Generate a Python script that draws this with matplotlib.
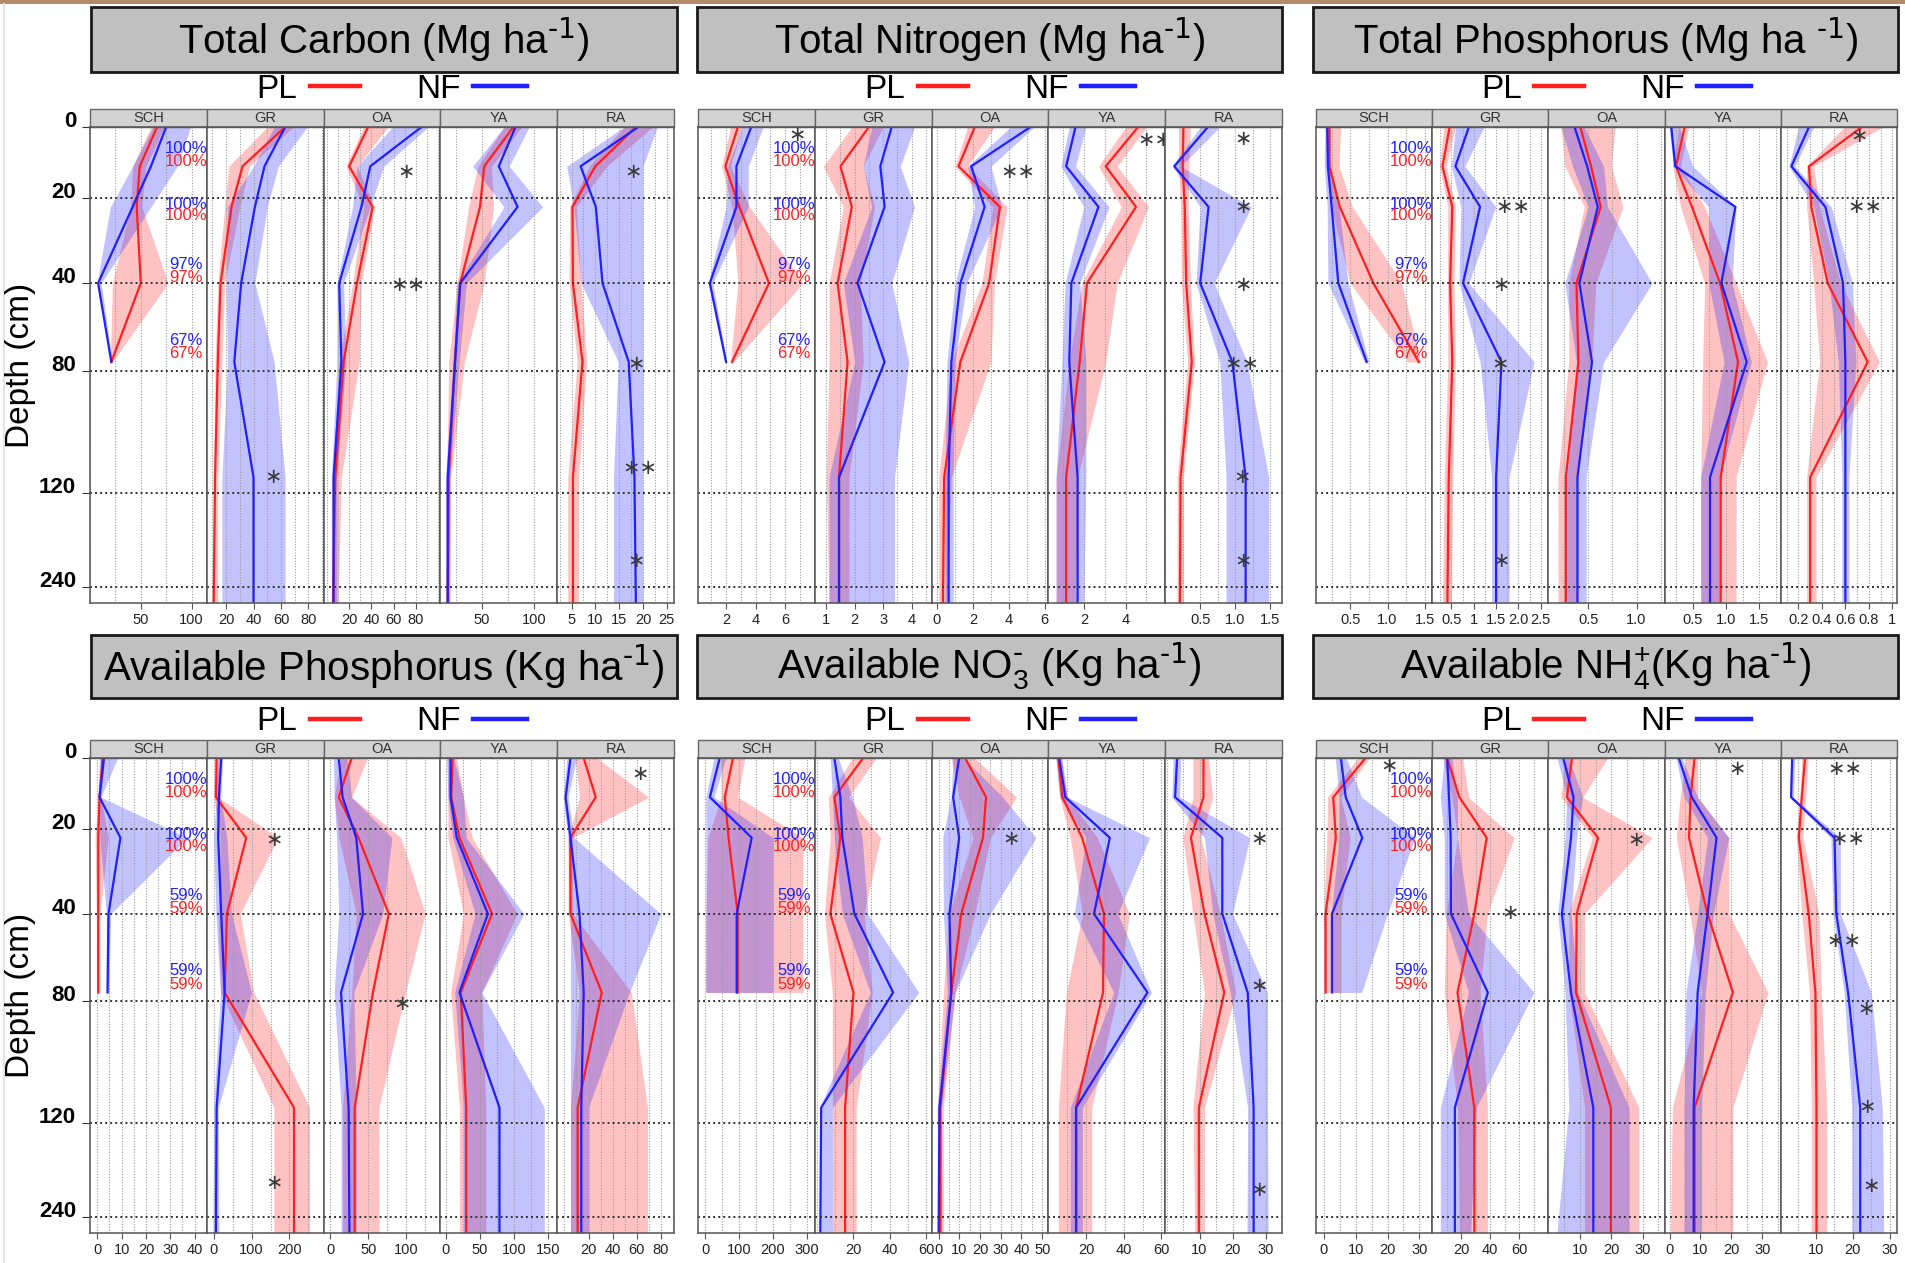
import numpy as np
import matplotlib.pyplot as plt
from matplotlib.patches import Rectangle
from matplotlib.lines import Line2D
from matplotlib.ticker import MultipleLocator

plt.rcParams['font.family'] = ['Liberation Sans', 'DejaVu Sans']
plt.rcParams['mathtext.default'] = 'regular'

## data
sites = ['SCH', 'GR', 'OA', 'YA', 'RA']
depth = [0, 11, 22, 40, 76, 115, 265]
depth_ticks = [0, 20, 40, 80, 120, 240]

# Total carbon
tc_pl = [[66, 49, 46, 50, 21], [63, 32, 24, 16, 14, 12, 11], [37, 20, 41, 27, 15, 7.5, 5.5],
         [80, 52, 48, 29, 24, 18, 17], [18.5, 10, 5.2, 5.3, 7.3, 5.3, 5.3]]
tc_pl_lo = [[60, 42, 40, 22, 20], [50, 22, 19, 14, 12, 11, 10], [33, 17, 33, 23, 11, 5, 4],
            [71, 46, 37, 26, 18, 16, 16], [16, 8.7, 4.6, 4.5, 6.2, 4.2, 4.2]]
tc_pl_hi = [[73, 55, 51, 77, 22], [69, 37, 30, 19, 17, 14, 14], [55, 27, 43, 31, 29, 13, 10],
            [88, 59, 61, 52, 33, 20, 19], [22, 12.4, 6, 7, 8.2, 6.5, 6.5]]
tc_nf = [[75, 60, 42, 8, 21], [63, 48, 41, 31, 26, 40, 40], [85, 39, 31, 11, 13, 6, 6],
         [82, 66, 84, 29, 24, 17, 17], [19, 6.9, 10.1, 11.5, 17, 18.2, 18.5]]
tc_nf_lo = [[62, 42, 20, 7, 20], [55, 40, 21, 20, 21, 17, 17], [59, 27, 23, 9, 9, 4, 4],
            [71, 41, 71, 26, 22, 15, 15], [16, 4, 5.5, 7, 14.8, 13.8, 13.8]]
tc_nf_hi = [[99, 86, 60, 11, 22], [79, 58, 50, 41, 55, 63, 63], [91, 51, 39, 15, 17, 9, 9],
            [95, 76, 108, 35, 28, 19, 19], [23, 20, 20, 20, 20, 20, 20]]
tc_xlim = [(0, 115), (6, 91), (-3, 102), (10, 122), (2, 26.5)]
tc_ticks = [[50, 100], [20, 40, 60, 80], [20, 40, 60, 80], [50, 100], [5, 10, 15, 20, 25]]
tc_ticklabels = [['50', '100'], ['20', '40', '60', '80'], ['20', '40', '60', '80'], ['50', '100'],
                 ['5', '10', '15', '20', '25']]
tc_stars = [(2, 71, 12.7, '*'), (2, 73, 41, '**'), (1, 54, 115, '*'), (4, 18, 12.7, '*'),
            (4, 18.5, 77, '*'), (4, 19.4, 112, '**'), (4, 18.5, 207, '*')]

# Total nitrogen
tn_pl = [[2.8, 1.95, 2.9, 4.9, 2.4], [2.5, 1.5, 1.9, 1.4, 1.75, 1.45, 1.45], [2.1, 1.2, 3.5, 2.9, 1.3, 0.4, 0.33],
         [4.6, 3.05, 4.5, 2.15, 1.8, 1.15, 1.15], [0.26, 0.25, 0.28, 0.3, 0.38, 0.22, 0.21]]
tn_pl_lo = [[2.3, 1.7, 2.4, 2.8, 2.3], [1.9, 0.9, 1.6, 1.1, 1.1, 1.0, 1.1], [1.7, 1.0, 3.1, 2.5, 0.8, 0.1, 0.1],
            [4.0, 2.7, 3.8, 1.9, 1.3, 0.67, 0.67], [0.19, 0.19, 0.22, 0.23, 0.32, 0.17, 0.17]]
tn_pl_hi = [[3.1, 2.3, 3.6, 7.2, 2.5], [3.0, 2.3, 2.7, 2.2, 2.3, 1.8, 1.8], [3.2, 1.7, 3.9, 3.2, 3.0, 0.8, 0.55],
            [5.0, 3.6, 5.1, 3.6, 3.05, 1.7, 1.6], [0.36, 0.34, 0.33, 0.36, 0.42, 0.26, 0.26]]
tn_nf = [[3.7, 2.7, 2.7, 0.9, 2.0], [3.3, 2.9, 3.05, 2.1, 3.05, 1.45, 1.45], [5.2, 1.9, 2.65, 1.3, 0.8, 0.65, 0.65],
         [1.6, 1.15, 2.7, 1.4, 1.3, 1.7, 1.7], [0.61, 0.13, 0.62, 0.5, 0.96, 1.15, 1.15]]
tn_nf_lo = [[3.1, 2.1, 2.0, 0.8, 1.95], [2.6, 2.3, 2.6, 1.6, 2.0, 1.1, 1.1], [4.1, 1.7, 2.1, 1.0, 0.55, 0.45, 0.45],
            [1.3, 0.9, 2.0, 1.1, 0.95, 0.67, 0.67], [0.5, 0.1, 0.5, 0.44, 0.78, 0.87, 0.87]]
tn_nf_hi = [[4.5, 3.5, 3.5, 1.1, 2.05], [4.1, 3.6, 4.1, 3.3, 3.9, 3.4, 3.4], [5.4, 3.0, 3.6, 1.65, 1.0, 0.9, 0.9],
            [2.1, 1.6, 3.2, 1.8, 2.1, 2.1, 2.0], [0.78, 0.22, 1.23, 0.7, 1.17, 1.48, 1.48]]
tn_xlim = [(0.1, 8), (0.6, 4.7), (-0.3, 6.2), (0.3, 5.9), (0, 1.67)]
tn_ticks = [[2, 4, 6], [1, 2, 3, 4], [0, 2, 4, 6], [2, 4], [0.5, 1.0, 1.5]]
tn_ticklabels = [['2', '4', '6'], ['1', '2', '3', '4'], ['0', '2', '4', '6'], ['2', '4'], ['0.5', '1.0', '1.5']]
tn_stars = [(0, 6.8, 2.2, '*'), (2, 4.5, 12.7, '**'), (3, 5.4, 3.6, '**'), (4, 1.12, 3.5, '*'),
            (4, 1.11, 22, '*'), (4, 1.12, 41, '*'), (4, 1.09, 77, '**'), (4, 1.1, 115, '*'), (4, 1.12, 207, '*')]

# Total phosphorus
tp_pl = [[0.22, 0.22, 0.36, 0.81, 1.42], [0.46, 0.3, 0.52, 0.47, 0.52, 0.44, 0.41],
         [0.42, 0.53, 0.63, 0.38, 0.4, 0.27, 0.27], [0.38, 0.25, 0.49, 0.91, 1.18, 0.92, 0.92],
         [0.74, 0.29, 0.31, 0.45, 0.79, 0.3, 0.3]]
tp_pl_lo = [[0.19, 0.19, 0.24, 0.5, 1.27], [0.33, 0.23, 0.42, 0.41, 0.42, 0.34, 0.3],
            [0.22, 0.26, 0.46, 0.3, 0.3, 0.19, 0.19], [0.29, 0.2, 0.32, 0.68, 0.65, 0.62, 0.62],
            [0.59, 0.27, 0.27, 0.33, 0.38, 0.27, 0.27]]
tp_pl_hi = [[0.37, 0.35, 0.53, 1.19, 1.45], [0.59, 0.38, 0.59, 0.56, 0.59, 0.53, 0.5],
            [0.78, 0.74, 0.86, 0.58, 0.54, 0.38, 0.38], [0.44, 0.32, 0.68, 1.15, 1.62, 1.15, 1.15],
            [0.92, 0.33, 0.38, 0.56, 0.89, 0.35, 0.35]]
tp_nf = [[0.19, 0.2, 0.25, 0.34, 0.72], [0.89, 0.59, 1.14, 0.76, 1.62, 1.5, 1.5],
         [0.36, 0.49, 0.6, 0.41, 0.54, 0.39, 0.39], [0.18, 0.24, 1.14, 0.93, 1.31, 0.76, 0.76],
         [0.29, 0.14, 0.43, 0.58, 0.6, 0.6, 0.6]]
tp_nf_lo = [[0.16, 0.15, 0.19, 0.2, 0.69], [0.59, 0.5, 0.71, 0.67, 1.14, 1.4, 1.4],
            [0.22, 0.34, 0.5, 0.26, 0.38, 0.28, 0.28], [0.15, 0.21, 0.74, 0.74, 0.97, 0.62, 0.62],
            [0.2, 0.12, 0.33, 0.46, 0.54, 0.57, 0.57]]
tp_nf_hi = [[0.23, 0.24, 0.35, 0.47, 0.75], [1.23, 0.8, 1.49, 0.89, 2.35, 1.79, 1.79],
            [0.46, 0.66, 0.7, 1.16, 0.66, 0.48, 0.48], [0.3, 0.5, 1.15, 1.09, 1.38, 0.91, 0.91],
            [0.33, 0.17, 0.48, 0.66, 0.69, 0.63, 0.63]]
tp_xlim = [(0.04, 1.6), (0.07, 2.67), (0.09, 1.29), (0.08, 1.82), (0.05, 1.04)]
tp_ticks = [[0.5, 1.0, 1.5], [0.5, 1, 1.5, 2.0, 2.5], [0.5, 1.0], [0.5, 1.0, 1.5], [0.2, 0.4, 0.6, 0.8, 1]]
tp_ticklabels = [['0.5', '1.0', '1.5'], ['0.5', '1', '1.5', '2.0', '2.5'], ['0.5', '1.0'],
                 ['0.5', '1.0', '1.5'], ['0.2', '0.4', '0.6', '0.8', '1']]
tp_stars = [(1, 1.87, 22, '**'), (1, 1.62, 41, '*'), (1, 1.6, 77, '*'), (1, 1.62, 207, '*'),
            (4, 0.72, 2.5, '*'), (4, 0.77, 22, '**')]

# Available phosphorus
ap_pl = [[2.2, 0.9, 0.4, 0.4, 0.4], [8, 6, 86, 35, 29, 212, 212], [28, 11, 37, 77, 56, 32, 32],
         [10, 8, 20, 68, 22, 30, 30], [16, 26, 5, 5, 31, 11, 11]]
ap_pl_lo = [[1.5, 0.4, -0.9, -0.4, -0.4], [2, 0, 18, 12, 18, 159, 159], [14, 5, 11, 34, 28, 16, 16],
            [3, 3, 3, 26, 7, 20, 20], [9, 12.5, 3, 3, 12.5, 5, 5]]
ap_pl_hi = [[3, 1.5, 4.5, 1.1, 1.1], [14, 12, 170, 70, 106, 253, 253], [49, 28, 93, 125, 99, 64, 64],
            [16, 26, 39, 105, 53, 59, 59], [27, 70, 7, 7, 55.6, 69, 69]]
ap_nf = [[2.75, 0.9, 9.5, 4.6, 4.2], [20, 14, 12, 20, 29, 8, 6], [11, 16, 34, 43, 14, 24, 25],
         [7, 7, 16, 62, 20, 79, 79], [5, 1, 5, 12.5, 16, 14, 14]]
ap_nf_lo = [[0.9, 0.4, 1, 3.7, 3.7], [12, 7, 0, 6, 18, 0, -2], [4, 5, 8, 11, 5, 14, 14],
            [1, 3, 10, 43, 13, 26, 26], [2, -1, 3, 5, 5, 5, 5]]
ap_nf_hi = [[8.3, 1.5, 37, 5.5, 4.8], [24, 19, 35, 47, 100, 12, 14], [22, 28, 81, 69, 31, 34, 34],
            [12, 26, 30, 115, 53, 145, 145], [10, 3, 8, 80, 54, 20, 20]]
ap_xlim = [(-3, 45), (-18, 290), (-9, 145), (-8, 164), (-6, 91)]
ap_ticks = [[0, 10, 20, 30, 40], [0, 100, 200], [0, 50, 100], [0, 50, 100, 150], [20, 40, 60, 80]]
ap_ticklabels = [['0', '10', '20', '30', '40'], ['0', '100', '200'], ['0', '50', '100'],
                 ['0', '50', '100', '150'], ['20', '40', '60', '80']]
ap_stars = [(1, 159, 22.5, '*'), (1, 159, 196, '*'), (2, 94, 81, '*'), (4, 63, 4.4, '*')]

# Available NO3
no3_pl = [[82, 58, 69, 96, 96], [25.5, 9.7, 13, 7.5, 20.2, 15.6, 15.6], [12.8, 22.9, 21.4, 10.9, 6.1, 0.8, 0.8],
          [5.3, 7.4, 17.9, 29.5, 29, 14.7, 14.7], [11.2, 11.2, 7.4, 11.5, 17.5, 9.8, 9.8]]
no3_pl_lo = [[47, 47, 8, 2, 2], [19.6, 6.4, 7.5, 4.3, 8.6, 8.6, 8.6], [6, 10, 16.6, 5, 2.3, -0.6, -0.6],
             [4, 6, 11.6, 18, 9.5, 5.3, 5.3], [8, 8, 5, 8, 11.5, 8, 8.6]]
no3_pl_hi = [[117, 96, 288, 288, 288], [32.7, 17.4, 35, 26, 30.5, 21.7, 21.7], [17.5, 37.6, 25, 17.5, 8, 2.3, 2.3],
             [7, 10, 26, 43, 37, 23, 23], [12.7, 14, 10.4, 16.3, 21, 11.5, 11.5]]
no3_nf = [[43, 14, 137, 93, 93], [9.7, 13, 14.1, 20.7, 41.9, 2.5, 2], [9.9, 7, 9.9, 5.2, 6.1, 0.4, 0],
          [5.7, 9, 32.6, 24.2, 52.6, 14.7, 14.7], [3.2, 2.6, 16.9, 16.9, 24.6, 26.4, 26.4]]
no3_nf_lo = [[26, 2, 2, 2, 2], [7.5, 8.6, 9.7, 14, 29.4, 1.6, 1.6], [7, 6, 2, 2.3, 4.2, -0.6, -0.6],
             [4, 6, 20, 13.7, 34.7, 11.6, 11.6], [2, 1.6, 11.5, 14, 19.3, 24.6, 24.4]]
no3_nf_hi = [[61, 26, 200, 200, 200], [11.8, 19.6, 25, 28, 56, 8.6, 8.6], [12, 31, 47, 25, 8, 1.4, 1.4],
             [7, 10, 53.7, 36.8, 54.7, 18, 18], [4.3, 4, 25.2, 20, 30.6, 30.6, 30.8]]
no3_xlim = [(-21, 323), (-1, 63), (-3.4, 53), (0, 62), (-0.4, 35)]
no3_ticks = [[0, 100, 200, 300], [20, 40, 60], [0, 10, 20, 30, 40, 50], [20, 40, 60], [10, 20, 30]]
no3_ticklabels = [['0', '100', '200', '300'], ['20', '40', '60'], ['0', '10', '20', '30', '40', '50'],
                  ['20', '40', '60'], ['10', '20', '30']]
no3_stars = [(2, 35, 22.3, '*'), (4, 28, 22.3, '*'), (4, 28, 73, '*'), (4, 28, 205, '*')]

# Available NH4
nh4_pl = [[13.1, 3, 3.8, 0.6, 0.6], [10.3, 18.7, 37.5, 29, 17.4, 29, 29], [7.5, 5.9, 15.8, 9, 8.8, 19.9, 19.9],
          [8.1, 6.8, 6.3, 12.3, 20.5, 8.1, 8.1], [7, 6.1, 5.3, 8, 9.8, 10.1, 10.1]]
nh4_pl_lo = [[10.7, 1.2, 1, 0, 0], [7, 13.5, 17.4, 9.6, 8.3, 17.4, 18.7], [5.3, 4, 14, 6.5, 6.5, 11.5, 11.5],
             [5.3, 3.4, 2.2, 6.6, 10.4, 0.9, 0.3], [6.1, 5.6, 4.6, 6.1, 8.2, 8.7, 8.7]]
nh4_pl_hi = [[14.3, 5.4, 8.3, 5.4, 5.4], [21, 25, 56.5, 38, 33, 38, 38], [18.9, 10.9, 33, 11.5, 11.5, 28.8, 28.8],
             [9.1, 9.1, 19.2, 19.2, 31.9, 20.5, 20.5], [7.8, 7.2, 6.4, 10.8, 11.4, 12.9, 12.9]]
nh4_nf = [[5.4, 6.9, 12.1, 2.6, 2.6], [10.3, 11.6, 12.7, 12.9, 38.3, 15.6, 15.6], [4.7, 8, 7.2, 4.3, 7.2, 14.3, 14.3],
          [3, 7.2, 15.2, 12.3, 9.1, 7.8, 7.8], [3.5, 3.2, 15, 15.5, 18.7, 22, 22]]
nh4_nf_lo = [[3.6, 4.8, 4.8, 2.4, 2.4], [8.3, 5.6, 8.3, 8.3, 25, 5.6, 5.6], [2.8, 5.9, 5.3, 3, 5.3, 6.5, 2.7],
             [2.1, 4.7, 12.3, 9.1, 5.3, 4.7, 4.7], [3.1, 2.8, 14, 14.6, 17.6, 19.7, 19.7]]
nh4_nf_hi = [[7.1, 11.9, 28.6, 20, 11.9], [13.5, 17.4, 17.4, 25, 70, 30.4, 26.5], [6.5, 10.9, 9, 7.2, 9.4, 25.7, 25.7],
             [4, 9.1, 19.2, 14.2, 11.6, 10.4, 10.4], [4.2, 3.8, 16.6, 16.6, 25, 28, 28.4]]
nh4_xlim = [(-2.4, 34), (0, 80), (0, 37), (-1.6, 36), (0.4, 32)]
nh4_ticks = [[0, 10, 20, 30], [20, 40, 60], [10, 20, 30], [0, 10, 20, 30], [10, 20, 30]]
nh4_ticklabels = [['0', '10', '20', '30'], ['20', '40', '60'], ['10', '20', '30'], ['0', '10', '20', '30'],
                  ['10', '20', '30']]
nh4_stars = [(0, 20.5, 2.2, '*'), (1, 53.4, 39.7, '*'), (2, 27.8, 22.5, '*'), (3, 21.8, 3, '*'),
             (4, 17.9, 3, '**'), (4, 18.7, 22.3, '**'), (4, 17.6, 52.6, '**'), (4, 23.6, 82.5, '*'),
             (4, 24, 114.7, '*'), (4, 25, 200, '*')]

titles = [r'Total Carbon (Mg ha$^{\text{-1}}$)', r'Total Nitrogen (Mg ha$^{\text{-1}}$)',
          r'Total Phosphorus (Mg ha $^{\text{-1}}$)', r'Available Phosphorus (Kg ha$^{\text{-1}}$)',
          r'Available NO$_3^{\text{-}}$ (Kg ha$^{\text{-1}}$)', r'Available NH$_4^{+}$(Kg ha$^{\text{-1}}$)']
pct_top = ['100%', '100%', '97%', '67%']
pct_bottom = ['100%', '100%', '59%', '59%']

panels = [
    (tc_pl, tc_pl_lo, tc_pl_hi, tc_nf, tc_nf_lo, tc_nf_hi, tc_xlim, tc_ticks, tc_ticklabels, tc_stars),
    (tn_pl, tn_pl_lo, tn_pl_hi, tn_nf, tn_nf_lo, tn_nf_hi, tn_xlim, tn_ticks, tn_ticklabels, tn_stars),
    (tp_pl, tp_pl_lo, tp_pl_hi, tp_nf, tp_nf_lo, tp_nf_hi, tp_xlim, tp_ticks, tp_ticklabels, tp_stars),
    (ap_pl, ap_pl_lo, ap_pl_hi, ap_nf, ap_nf_lo, ap_nf_hi, ap_xlim, ap_ticks, ap_ticklabels, ap_stars),
    (no3_pl, no3_pl_lo, no3_pl_hi, no3_nf, no3_nf_lo, no3_nf_hi, no3_xlim, no3_ticks, no3_ticklabels, no3_stars),
    (nh4_pl, nh4_pl_lo, nh4_pl_hi, nh4_nf, nh4_nf_lo, nh4_nf_hi, nh4_xlim, nh4_ticks, nh4_ticklabels, nh4_stars),
]

## depth axis: piecewise linear scale
knot_d = [0, 20, 40, 80, 120, 240, 265]
knot_f = [0, 0.15, 0.328, 0.512, 0.768, 0.967, 1.0]


def fwd(d):
    return np.interp(d, knot_d, knot_f)


def inv(f):
    return np.interp(f, knot_f, knot_d)


## layout in pixels
W, H = 1905, 1263
col_left = [90, 698, 1316]
col_w = [584, 584, 581]
box_x = [(91, 677), (697, 1282), (1313, 1898)]
row_top = [127, 758]
row_bot = [603, 1233]
box_y = [(7, 72), (635, 698)]
leg_y = [89, 722]
strip_h = 18

RED = '#ff1f1f'
BLUE = '#1f1fff'

fig = plt.figure(figsize=(W / 100, H / 100), dpi=100)


def fx(x):
    return x / W


def fy(y):
    return 1 - y / H


# brown bar on top and thin line on the left
fig.patches.append(Rectangle((0, fy(3.5)), 1, 3.5 / H, transform=fig.transFigure,
                             facecolor='#b38b66', edgecolor='none'))
fig.add_artist(Line2D([fx(4), fx(4)], [0, fy(3.5)], transform=fig.transFigure, color='#e4e4e4', lw=1.5))

for p, data in enumerate(panels):
    pl, pl_lo, pl_hi, nf, nf_lo, nf_hi, xlims, ticks, ticklabels, stars = data
    r, c = divmod(p, 3)

    # title box
    x0, x1 = box_x[c]
    y0, y1 = box_y[r]
    fig.patches.append(Rectangle((fx(x0), fy(y1)), (x1 - x0) / W, (y1 - y0) / H, transform=fig.transFigure,
                                 facecolor='#c0c0c0', edgecolor='#1a1a1a', lw=2))
    fig.text(fx((x0 + x1) / 2), fy((y0 + y1) / 2), titles[p], ha='center', va='center', fontsize=29)

    # legend
    ly = fy(leg_y[r])
    cl, cw = col_left[c], col_w[c]
    fig.text(fx(cl + 0.32 * cw), ly, 'PL', ha='center', va='center', fontsize=24)
    fig.add_artist(Line2D([fx(cl + 0.376 * cw), fx(cl + 0.462 * cw)], [ly + 0.002, ly + 0.002],
                          transform=fig.transFigure, color=RED, lw=3.2))
    fig.text(fx(cl + 0.596 * cw), ly, 'NF', ha='center', va='center', fontsize=24)
    fig.add_artist(Line2D([fx(cl + 0.656 * cw), fx(cl + 0.748 * cw)], [ly + 0.002, ly + 0.002],
                          transform=fig.transFigure, color=BLUE, lw=3.2))

    sub_w = cw / 5
    ax_h = row_bot[r] - row_top[r]
    for k in range(5):
        ax = fig.add_axes([fx(cl + k * sub_w), fy(row_bot[r]), sub_w / W, ax_h / H])
        ax.set_yscale('function', functions=(fwd, inv))
        ax.set_ylim(265, 0)
        ax.set_xlim(*xlims[k])

        n = len(pl[k])
        d = depth[:n]
        ax.fill_betweenx(d, pl_lo[k], pl_hi[k], color=RED, alpha=0.27, lw=0)
        ax.fill_betweenx(d, nf_lo[k], nf_hi[k], color=BLUE, alpha=0.27, lw=0)
        ax.plot(pl[k], d, color=RED, lw=1.6)
        ax.plot(nf[k], d, color=BLUE, lw=1.6)

        # grid
        step = ticks[k][1] - ticks[k][0]
        ax.set_xticks(ticks[k])
        ax.set_xticklabels(ticklabels[k])
        ax.xaxis.set_minor_locator(MultipleLocator(step / 2))
        ax.grid(axis='x', which='both', color='#9a9a9a', ls=(0, (1, 1.5)), lw=0.8)
        ax.axhline(0, color='#777777', ls=(0, (1, 1.5)), lw=1.0)
        for dt in depth_ticks[1:]:
            ax.axhline(dt, color='#333333', ls=(0, (1, 1.6)), lw=1.4)

        ax.tick_params(axis='x', which='major', labelsize=10.5, length=4, color='#555555',
                       labelcolor='#222222', pad=3)
        ax.tick_params(axis='x', which='minor', length=0)
        if c == 0 and k == 0:
            ax.set_yticks(depth_ticks)
            ax.set_yticklabels([str(v) for v in depth_ticks])
            ax.tick_params(axis='y', labelsize=16, length=6, color='#333333', pad=4)
            for lab in ax.get_yticklabels():
                lab.set_fontweight('bold')
                lab.set_verticalalignment('baseline')
        else:
            ax.set_yticks([])
        ax.yaxis.set_minor_locator(plt.NullLocator())
        for s in ax.spines.values():
            s.set_color('#555555')
            s.set_linewidth(1.1)

        # strip header
        sh = strip_h / ax_h
        ax.add_patch(Rectangle((0, 1), 1, sh, transform=ax.transAxes, clip_on=False,
                               facecolor='#d3d3d3', edgecolor='#666666', lw=1))
        ax.text(0.5, 1 + sh / 2, sites[k], transform=ax.transAxes, ha='center', va='center',
                fontsize=10.5, color='#333333')

        # significance stars
        for si, sx, sd, st in stars:
            if si == k:
                ax.text(sx, sd, '\u2217' * len(st), ha='center', va='center', fontsize=15,
                        color='#3a3a3a', family='DejaVu Sans')

        # percentages in SCH
        if k == 0:
            pcts = pct_top if r == 0 else pct_bottom
            yb = [0.046, 0.162, 0.289, 0.448]
            yr = [0.072, 0.186, 0.316, 0.476]
            for i in range(4):
                ax.text(0.82, 1 - yb[i], pcts[i], transform=ax.transAxes, ha='center', va='center',
                        fontsize=12, color=BLUE)
                ax.text(0.82, 1 - yr[i], pcts[i], transform=ax.transAxes, ha='center', va='center',
                        fontsize=12, color=RED)

    if c == 0:
        fig.text(fx(21), fy((row_top[r] + row_bot[r]) / 2), 'Depth (cm)', rotation=90,
                 ha='center', va='center', fontsize=24)

fig.savefig('out.png', dpi=100)
